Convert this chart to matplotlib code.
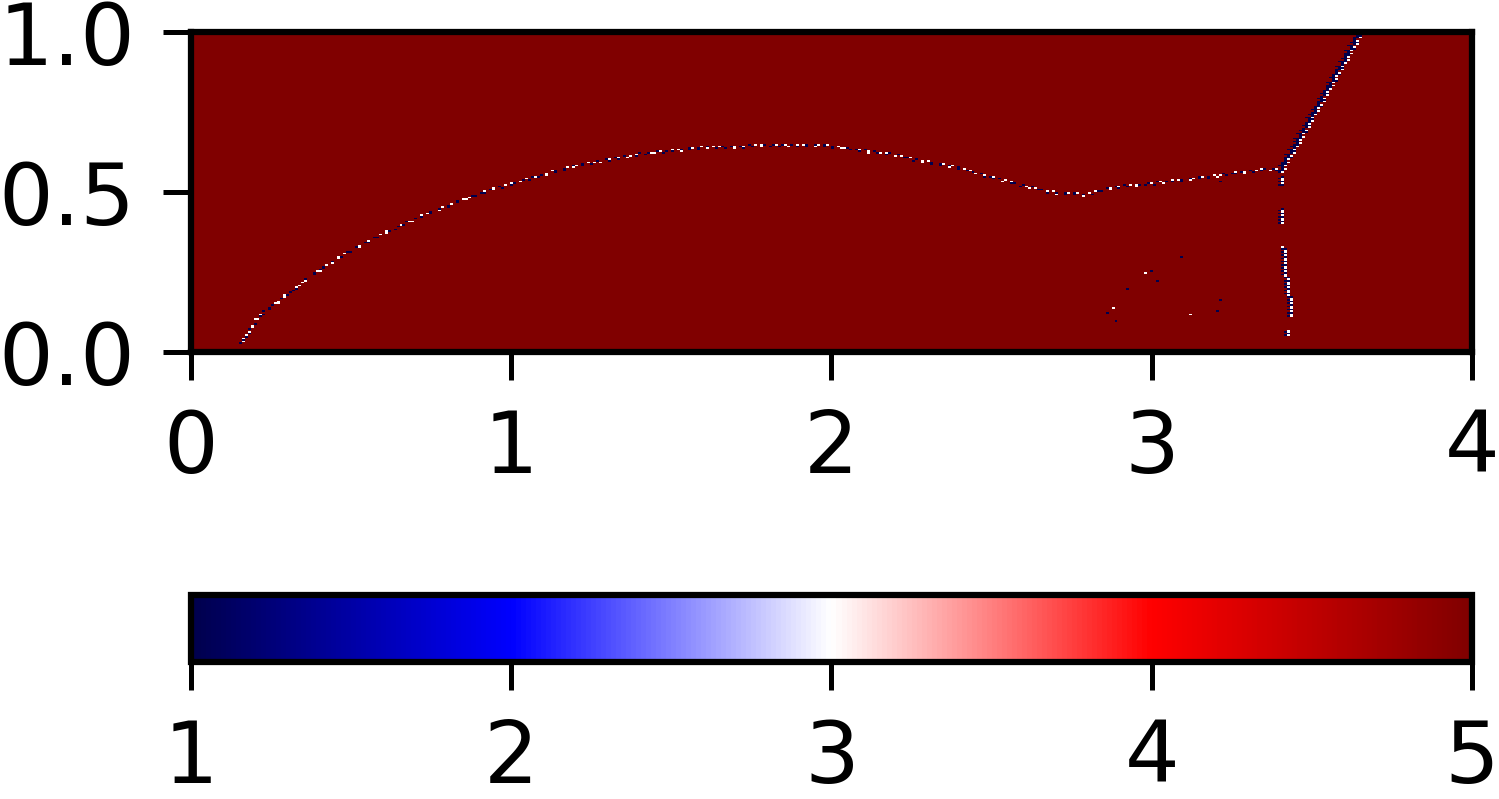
import numpy as np
import matplotlib
matplotlib.use("Agg")
import matplotlib.pyplot as plt

# main curve (x, y)
main_x = [0.153, 0.205, 0.256, 0.330, 0.413, 0.517, 0.621, 0.725, 0.830, 0.934,
          1.038, 1.142, 1.246, 1.350, 1.402, 1.610, 1.818, 1.923, 2.027, 2.183,
          2.287, 2.391, 2.495, 2.599, 2.703, 2.797, 2.880, 3.036, 3.244, 3.359, 3.401]
main_y = [0.028, 0.110, 0.147, 0.204, 0.267, 0.329, 0.381, 0.428, 0.470, 0.508,
          0.538, 0.569, 0.592, 0.610, 0.621, 0.642, 0.647, 0.650, 0.642, 0.621,
          0.598, 0.581, 0.548, 0.522, 0.498, 0.494, 0.517, 0.532, 0.558, 0.574, 0.569]

# upper branch (x as a function of y)
up_y = [0.560, 0.746, 1.000]
up_x = [3.398, 3.505, 3.650]

# lower branch (x as a function of y), has gaps
low_y = [0.050, 0.131, 0.204, 0.298, 0.433, 0.548]
low_x = [3.430, 3.440, 3.427, 3.416, 3.406, 3.406]
low_gaps = [(0.07, 0.11), (0.33, 0.40), (0.45, 0.52)]

# loose speckles
spk_x = [2.865, 2.880, 2.885, 2.927, 2.979, 3.000, 3.020, 3.096, 3.119, 3.215, 3.206, 3.215]
spk_y = [0.123, 0.136, 0.098, 0.199, 0.248, 0.253, 0.223, 0.298, 0.116, 0.163, 0.126, 0.531]
spk_v = [1, 3, 1, 1, 3, 1, 1, 1, 3, 1, 1, 1]

# values along the curve (1 = navy, 3 = white, 5 = background)
mark_vals = [1, 3, 5, 1, 5, 3, 5, 3, 1, 5, 5, 1, 3, 5]
second_vals = [5, 1, 5, 5, 3, 5, 5, 1, 5]

nx, ny = 430, 200
xe = np.linspace(0, 4, nx + 1)
ye = np.linspace(0, 1, ny + 1)
xc = 0.5 * (xe[1:] + xe[:-1])
yc = 0.5 * (ye[1:] + ye[:-1])
Z = np.full((ny, nx), 6.0)

def put(i, j, v):
    if 0 <= i < nx and 0 <= j < ny and v < 5:
        Z[j, i] = v

# main curve: one mark per column, fill steep parts
cols = np.where((xc >= main_x[0]) & (xc <= main_x[-1]))[0]
prev = None
for k, i in enumerate(cols):
    j = int(np.interp(xc[i], main_x, main_y) * ny)
    v = mark_vals[k % len(mark_vals)]
    if prev is not None and abs(j - prev) > 1:
        for jj in range(min(j, prev), max(j, prev)):
            put(i, jj, mark_vals[(k + jj) % len(mark_vals)])
    put(i, j, v)
    put(i, j - 1, second_vals[k % len(second_vals)])
    prev = j

# upper branch: row by row, two cells wide
rows = np.where((yc >= up_y[0]) & (yc <= up_y[-1]))[0]
for k, j in enumerate(rows):
    i = int(np.interp(yc[j], up_y, up_x) / 4 * nx)
    put(i, j, 1)
    put(i + 1, j, [3, 1, 3, 5][k % 4])
    put(i - 1, j, [5, 1, 5, 5, 1][k % 5])

# lower branch
rows = np.where((yc >= low_y[0]) & (yc <= low_y[-1]))[0]
for k, j in enumerate(rows):
    if any(a <= yc[j] <= b for a, b in low_gaps):
        continue
    i = int(np.interp(yc[j], low_y, low_x) / 4 * nx)
    put(i, j, [3, 1, 3, 3, 1][k % 5])
    put(i - 1, j, [1, 5, 1, 5][k % 4])

for sx, sy, sv in zip(spk_x, spk_y, spk_v):
    put(int(sx / 4 * nx), int(sy * ny), sv)

fs = 62
plt.rcParams["font.size"] = fs
plt.rcParams["axes.linewidth"] = 4.5

fig = plt.figure(figsize=(14.99, 7.99), dpi=100)
ax = fig.add_axes([0.1274, 0.5594, 0.8546, 0.4005])
mesh = ax.pcolormesh(xe, ye, Z, cmap="seismic", vmin=1, vmax=5)
ax.set_xlim(0, 4)
ax.set_ylim(0, 1)
ax.set_xticks([0, 1, 2, 3, 4])
ax.set_yticks([0, 0.5, 1.0])
ax.tick_params(length=20, width=3.6, pad=20, labelsize=fs)

cax = fig.add_axes([0.1274, 0.1715, 0.8546, 0.0838])
cb = fig.colorbar(mesh, cax=cax, orientation="horizontal", ticks=[1, 2, 3, 4, 5])
cb.outline.set_linewidth(4.5)
cax.tick_params(length=20, width=3.6, pad=20, labelsize=fs)

fig.savefig("out.png", dpi=100)
